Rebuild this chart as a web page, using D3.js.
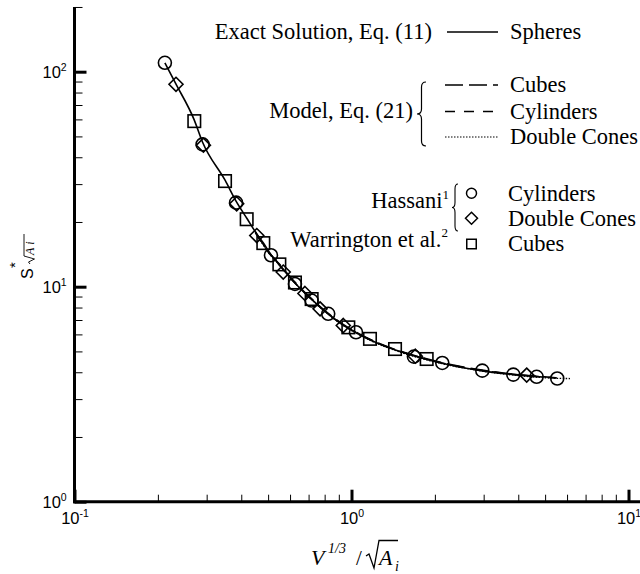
<!DOCTYPE html>
<html>
<head>
<meta charset="utf-8">
<script src="https://d3js.org/d3.v7.min.js"></script>
<style>
body { margin: 0; background: #fff; }
svg { display: block; }
</style>
</head>
<body>
<svg width="640" height="574"></svg>
<script>
// curves
var spheres_x = [0.212, 0.232, 0.27, 0.29, 0.35, 0.383, 0.42, 0.455, 0.48, 0.51, 0.55, 0.625, 0.72, 0.82, 0.93, 1.04, 1.17, 1.44, 1.7, 2.1, 3.0, 3.85, 4.9]
var spheres_y = [110, 88, 60, 47, 31.2, 25, 20.7, 17.6, 16.0, 14.2, 12.6, 10.4, 8.7, 7.5, 6.65, 6.1, 5.65, 5.08, 4.75, 4.42, 4.05, 3.9, 3.8]

var model_x = [0.45, 0.5, 0.55, 0.625, 0.72, 0.82, 0.93, 1.04, 1.17, 1.44, 1.7, 2.1, 3.0, 3.85, 4.7, 5.5]
var model_cubes_y = [18.0, 14.6, 12.7, 10.5, 8.75, 7.55, 6.7, 6.15, 5.68, 5.1, 4.77, 4.45, 4.08, 3.92, 3.83, 3.77]
var model_cyl_y = [17.8, 14.5, 12.6, 10.4, 8.7, 7.5, 6.66, 6.12, 5.66, 5.08, 4.76, 4.43, 4.07, 3.91, 3.82, 3.76]
var model_cones_x = [0.45, 0.5, 0.55, 0.625, 0.72, 0.82, 0.93, 1.04, 1.17, 1.44, 1.7, 2.1, 3.0, 3.85, 4.7, 5.5, 6.15]
var model_cones_y = [17.9, 14.5, 12.6, 10.4, 8.68, 7.48, 6.62, 6.08, 5.62, 5.05, 4.72, 4.4, 4.04, 3.88, 3.79, 3.75, 3.74]

// measured points
var hassani_cyl_x = [0.212, 0.29, 0.383, 0.512, 0.625, 0.718, 0.824, 1.038, 1.68, 2.127, 2.966, 3.838, 4.66, 5.53]
var hassani_cyl_y = [110, 45.9, 24.6, 14.0, 10.3, 8.62, 7.48, 6.14, 4.73, 4.42, 4.07, 3.90, 3.81, 3.74]
var hassani_cones_x = [0.2325, 0.292, 0.385, 0.455, 0.567, 0.679, 0.770, 0.934, 1.70, 4.29]
var hassani_cones_y = [87.4, 45.5, 24.3, 17.3, 11.7, 9.30, 7.89, 6.60, 4.75, 3.88]
var warr_cubes_x = [0.2707, 0.3495, 0.4184, 0.4804, 0.549, 0.625, 0.718, 0.974, 1.166, 1.436, 1.868]
var warr_cubes_y = [58.9, 31.0, 20.6, 15.95, 12.7, 10.46, 8.76, 6.47, 5.72, 5.13, 4.61]

// axes
var x_major = [0.1, 1, 10]
var x_minor = [0.2, 0.3, 0.4, 0.5, 0.6, 0.7, 0.8, 0.9, 2, 3, 4, 5, 6, 7, 8, 9]
var y_major = [1, 10, 100]
var y_minor = [2, 3, 4, 5, 6, 7, 8, 9, 20, 30, 40, 50, 60, 70, 80, 90, 200]

var serif = "'Liberation Serif', 'Times New Roman', serif"
var sans = "'Liberation Sans', Arial, sans-serif"

var x = d3.scaleLog().domain([0.1, 10]).range([74.5, 628.5])
var y = d3.scaleLog().domain([1, 100]).range([501.7, 71.7])

var svg = d3.select("svg")

function pairs(xs, ys){
    return xs.map(function(v, i){ return [v, ys[i]] })
}

/*********
* axes
*********/
function power_label(sel, expo){
    sel.append("tspan").text("10")
    sel.append("tspan").attr("font-size", 10.5).attr("dy", -7).text(expo)
}

var gx = svg.append("g").attr("transform", "translate(0,501.7)")
gx.append("g")
  .call(d3.axisBottom(x).tickValues(x_minor).tickSize(-7).tickSizeOuter(0).tickFormat(""))
  .call(function(g){ g.select(".domain").remove() })
  .selectAll("line").attr("stroke", "#000").attr("stroke-width", 1)
var gx_maj = gx.append("g")
  .call(d3.axisBottom(x).tickValues(x_major).tickSize(-12).tickSizeOuter(0).tickFormat(""))
  .call(function(g){ g.select(".domain").remove() })
gx_maj.selectAll("line").attr("stroke", "#000").attr("stroke-width", 3)
gx_maj.selectAll(".tick").append("text")
  .attr("fill", "#000")
  .attr("y", 22.5)
  .attr("font-family", sans)
  .attr("font-size", 16.5)
  .attr("text-anchor", "middle")
  .each(function(d){ power_label(d3.select(this), String(Math.round(Math.log10(d)))) })
gx.append("line").attr("x1", x(0.1) - 1.5).attr("x2", 640).attr("stroke", "#000").attr("stroke-width", 3)

var gy = svg.append("g").attr("transform", "translate(74.5,0)")
gy.append("g")
  .call(d3.axisLeft(y).tickValues(y_minor).tickSize(-8).tickSizeOuter(0).tickFormat(""))
  .call(function(g){ g.select(".domain").remove() })
  .selectAll("line").attr("stroke", "#000").attr("stroke-width", 1)
var gy_maj = gy.append("g")
  .call(d3.axisLeft(y).tickValues(y_major).tickSize(-12).tickSizeOuter(0).tickFormat(""))
  .call(function(g){ g.select(".domain").remove() })
gy_maj.selectAll("line").attr("stroke", "#000").attr("stroke-width", 3)
gy_maj.selectAll(".tick").append("text")
  .attr("fill", "#000")
  .attr("x", -32)
  .attr("y", 5.8)
  .attr("font-family", sans)
  .attr("font-size", 16.5)
  .attr("text-anchor", "start")
  .each(function(d){ power_label(d3.select(this), String(Math.round(Math.log10(d)))) })
gy.append("line").attr("y1", y(200)).attr("y2", y(1) + 1.5).attr("stroke", "#000").attr("stroke-width", 3)

// x title: V^(1/3) / sqrt(A_i)
var xt = svg.append("g").attr("font-family", serif).attr("font-style", "italic").attr("fill", "#000")
xt.append("text").attr("x", 311).attr("y", 565).attr("font-size", 22).text("V")
xt.append("text").attr("x", 328).attr("y", 553).attr("font-size", 14).text("1/3")
xt.append("text").attr("x", 356).attr("y", 565).attr("font-size", 21).attr("font-style", "normal").text("/")
xt.append("path").attr("d", "M366,556 L369,554 L374,568 L379,540.5 L398,540.5")
  .attr("fill", "none").attr("stroke", "#000").attr("stroke-width", 1.3)
xt.append("text").attr("x", 379).attr("y", 565).attr("font-size", 22).text("A")
xt.append("text").attr("x", 395).attr("y", 571).attr("font-size", 14).text("i")

// y title: S*_sqrt(Ai), rotated
var yt = svg.append("g").attr("transform", "translate(33,279) rotate(-90)").attr("fill", "#000")
yt.append("text").attr("font-family", sans).attr("font-size", 16).text("S")
yt.append("text").attr("x", 11).attr("y", -13).attr("font-family", sans).attr("font-size", 15).text("*")
yt.append("path").attr("d", "M15,-3 L17,-4.5 L20,1.5 L23,-9 L45,-9")
  .attr("fill", "none").attr("stroke", "#000").attr("stroke-width", 0.9)
yt.append("text").attr("x", 24).attr("y", 1).attr("font-family", serif).attr("font-style", "italic")
  .attr("font-size", 12).attr("letter-spacing", 3).text("Ai")

/*********
* curves
*********/
var line = d3.line().x(function(d){ return x(d[0]) }).y(function(d){ return y(d[1]) }).curve(d3.curveMonotoneX)

var curves = [
    {pts: pairs(model_x, model_cubes_y), dash: "18,6", w: 1.6},
    {pts: pairs(model_x, model_cyl_y), dash: "10,9", w: 1.6},
    {pts: pairs(model_cones_x, model_cones_y), dash: "1.5,1.5", w: 1.3},
    {pts: pairs(spheres_x, spheres_y), dash: null, w: 1.6}
]
svg.append("g").selectAll("path")
  .data(curves)
  .enter()
  .append("path")
  .attr("d", function(c){ return line(c.pts) })
  .attr("fill", "none")
  .attr("stroke", "#000")
  .attr("stroke-width", function(c){ return c.w })
  .attr("stroke-dasharray", function(c){ return c.dash })

/*********
* markers
*********/
function circle_mark(g, cx, cy, r){
    g.append("circle").attr("cx", cx).attr("cy", cy).attr("r", r)
}
function diamond_mark(g, cx, cy, h){
    g.append("path").attr("d", "M" + cx + "," + (cy - h) + " L" + (cx + h) + "," + cy + " L" + cx + "," + (cy + h) + " L" + (cx - h) + "," + cy + " Z")
}
function square_mark(g, cx, cy, s){
    g.append("rect").attr("x", cx - s / 2).attr("y", cy - s / 2).attr("width", s).attr("height", s)
}

var marks = svg.append("g").attr("fill", "none").attr("stroke", "#000").attr("stroke-width", 1.6)
marks.selectAll(".sq").data(pairs(warr_cubes_x, warr_cubes_y)).enter()
  .each(function(d){ square_mark(marks, x(d[0]), y(d[1]), 12.5) })
marks.selectAll(".dm").data(pairs(hassani_cones_x, hassani_cones_y)).enter()
  .each(function(d){ diamond_mark(marks, x(d[0]), y(d[1]), 7) })
marks.selectAll(".ci").data(pairs(hassani_cyl_x, hassani_cyl_y)).enter()
  .each(function(d){ circle_mark(marks, x(d[0]), y(d[1]), 6.5) })

/*********
* legend
*********/
var leg = svg.append("g").attr("font-family", serif).attr("font-size", 22.5).attr("fill", "#000")

function brace(x0, y0, y1, w){
    var m = (y0 + y1) / 2, c = x0 + w / 2
    return "M" + (x0 + w) + "," + y0 + " Q" + c + "," + y0 + " " + c + "," + (y0 + 5) +
        " L" + c + "," + (m - 5) + " Q" + c + "," + m + " " + x0 + "," + m +
        " Q" + c + "," + m + " " + c + "," + (m + 5) +
        " L" + c + "," + (y1 - 5) + " Q" + c + "," + y1 + " " + (x0 + w) + "," + y1
}

leg.append("text").attr("x", 432).attr("y", 38.5).attr("text-anchor", "end").text("Exact Solution, Eq. (11)")
leg.append("line").attr("x1", 447).attr("x2", 498).attr("y1", 32).attr("y2", 32).attr("stroke", "#000").attr("stroke-width", 1.5)
leg.append("text").attr("x", 510).attr("y", 38.5).text("Spheres")

leg.append("text").attr("x", 413).attr("y", 118).attr("text-anchor", "end").text("Model, Eq. (21)")
leg.append("path").attr("d", brace(417, 82, 146, 9)).attr("fill", "none").attr("stroke", "#000").attr("stroke-width", 1.2)
var model_rows = [
    {name: "Cubes", dash: "18,6", w: 1.5, cy: 85},
    {name: "Cylinders", dash: "10,9", w: 1.5, cy: 111.5},
    {name: "Double Cones", dash: "1.5,1.5", w: 1.1, cy: 137}
]
model_rows.forEach(function(r){
    leg.append("line").attr("x1", 445).attr("x2", 498).attr("y1", r.cy).attr("y2", r.cy)
      .attr("stroke", "#000").attr("stroke-width", r.w).attr("stroke-dasharray", r.dash)
    leg.append("text").attr("x", 510).attr("y", r.cy + 7).text(r.name)
})

var hs = leg.append("text").attr("x", 449).attr("y", 208).attr("text-anchor", "end")
hs.append("tspan").text("Hassani")
hs.append("tspan").attr("font-size", 13).attr("dy", -9).text("1")
leg.append("path").attr("d", brace(452, 184, 231, 6)).attr("fill", "none").attr("stroke", "#000").attr("stroke-width", 1.1)
var wr = leg.append("text").attr("x", 448).attr("y", 247).attr("text-anchor", "end")
wr.append("tspan").text("Warrington et al.")
wr.append("tspan").attr("font-size", 13).attr("dy", -10).text("2")

var lm = leg.append("g").attr("fill", "none").attr("stroke", "#000").attr("stroke-width", 1.5)
circle_mark(lm, 471.5, 193.3, 5)
diamond_mark(lm, 471.5, 218.3, 6)
square_mark(lm, 471.5, 244, 9.5)
leg.append("text").attr("x", 508).attr("y", 200.5).text("Cylinders")
leg.append("text").attr("x", 508).attr("y", 225.5).text("Double Cones")
leg.append("text").attr("x", 508).attr("y", 251).text("Cubes")
</script>
</body>
</html>
